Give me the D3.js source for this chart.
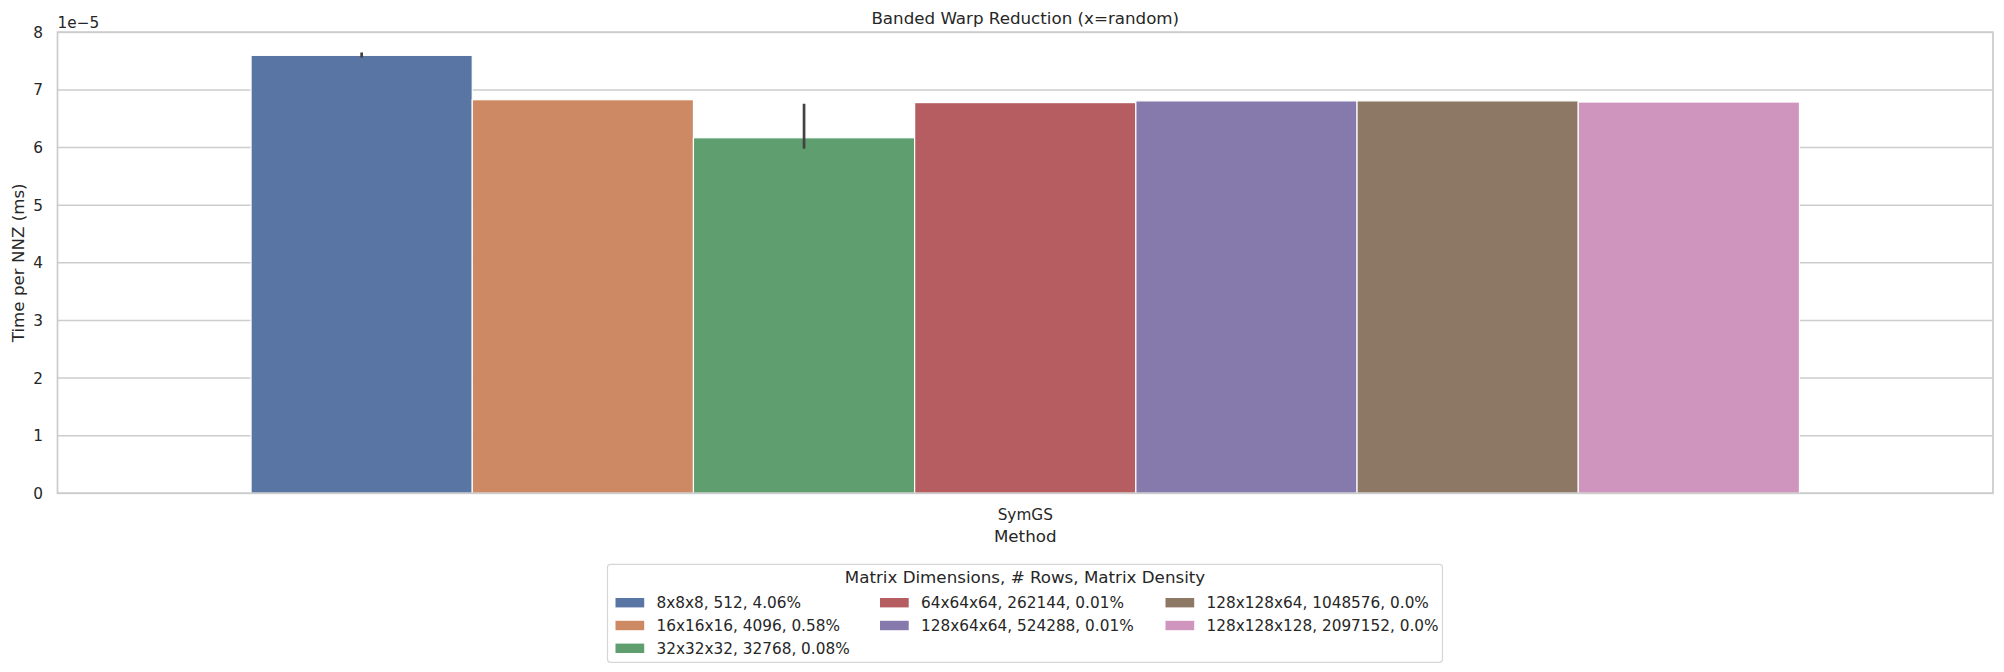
<!DOCTYPE html>
<html>
<head>
<meta charset="utf-8">
<script src="https://cdn.jsdelivr.net/npm/d3@7"></script>
<style>
  html, body { margin: 0; padding: 0; background: #fff; }
  svg { display: block; font-family: "DejaVu Sans", sans-serif; }
</style>
</head>
<body>
<svg id="chart" width="2004" height="672"></svg>
<script>
// ---- data ----
const categories = ["SymGS"];
const seriesNames = [
  "8x8x8, 512, 4.06%",
  "16x16x16, 4096, 0.58%",
  "32x32x32, 32768, 0.08%",
  "64x64x64, 262144, 0.01%",
  "128x64x64, 524288, 0.01%",
  "128x128x64, 1048576, 0.0%",
  "128x128x128, 2097152, 0.0%"
];
const seriesValues = [7.60e-5, 6.83e-5, 6.17e-5, 6.78e-5, 6.81e-5, 6.81e-5, 6.79e-5];
const errorLow  = [7.56e-5, 6.83e-5, 5.98e-5, 6.78e-5, 6.81e-5, 6.81e-5, 6.79e-5];
const errorHigh = [7.65e-5, 6.83e-5, 6.76e-5, 6.78e-5, 6.81e-5, 6.81e-5, 6.79e-5];
const seriesColors = ["#5875a4", "#cc8963", "#5f9e6e", "#b55d60", "#857aab", "#8d7866", "#d095bf"];
const yTicks = [0, 1, 2, 3, 4, 5, 6, 7, 8];
const yScaleExp = 1e-5;

(function () {
// ---- layout ----
const svg = d3.select("#chart");
const mLeft = 57.5, mRight = 1993, mTop = 32.3, mBottom = 493.3;

const x = d3.scaleBand().domain(categories).range([mLeft, mRight]).paddingInner(0).paddingOuter(0);
const xs = d3.scaleBand().domain(seriesNames)
  .range([x.bandwidth() * 0.1, x.bandwidth() * 0.9]).padding(0);
const y = d3.scaleLinear().domain([0, 8]).range([mBottom, mTop]);

// grid lines
svg.append("g").selectAll("line").data(yTicks).join("line")
  .attr("x1", mLeft).attr("x2", mRight)
  .attr("y1", d => y(d)).attr("y2", d => y(d))
  .attr("stroke", "#cccccc").attr("stroke-width", 1.4);

// bars
const cat = categories[0];
svg.append("g").selectAll("rect").data(seriesNames).join("rect")
  .attr("x", d => x(cat) + xs(d))
  .attr("width", xs.bandwidth())
  .attr("y", (d, i) => y(seriesValues[i] / yScaleExp))
  .attr("height", (d, i) => mBottom - y(seriesValues[i] / yScaleExp))
  .attr("fill", (d, i) => seriesColors[i])
  .attr("stroke", "#ffffff").attr("stroke-width", 1.2);

// error bars
svg.append("g").selectAll("line").data(seriesNames).join("line")
  .attr("x1", d => x(cat) + xs(d) + xs.bandwidth() / 2)
  .attr("x2", d => x(cat) + xs(d) + xs.bandwidth() / 2)
  .attr("y1", (d, i) => y(errorLow[i] / yScaleExp))
  .attr("y2", (d, i) => y(errorHigh[i] / yScaleExp))
  .attr("stroke", "#424242").attr("stroke-width", 2.7);

// spines
svg.append("rect")
  .attr("x", mLeft).attr("y", mTop)
  .attr("width", mRight - mLeft).attr("height", mBottom - mTop)
  .attr("fill", "none").attr("stroke", "#cccccc").attr("stroke-width", 1.75);

// y tick labels
svg.append("g").selectAll("text").data(yTicks).join("text")
  .attr("x", 43).attr("y", d => y(d)).attr("dy", "0.36em")
  .attr("text-anchor", "end").attr("font-size", 15.3).attr("fill", "#262626")
  .text(d => d3.format("d")(d));

// offset text
svg.append("text").attr("x", 57.5).attr("y", 27.5)
  .attr("font-size", 15.3).attr("fill", "#262626").text("1e\u22125");

// x tick label
svg.append("text").attr("x", x(cat) + x.bandwidth() / 2).attr("y", 519.5)
  .attr("text-anchor", "middle").attr("font-size", 15.3).attr("fill", "#262626").text(cat);

// axis labels
svg.append("text").attr("x", (mLeft + mRight) / 2).attr("y", 541.5)
  .attr("text-anchor", "middle").attr("font-size", 16.7).attr("fill", "#262626").text("Method");
svg.append("text")
  .attr("transform", `translate(24,${(mTop + mBottom) / 2}) rotate(-90)`)
  .attr("text-anchor", "middle").attr("font-size", 16.7).attr("fill", "#262626")
  .text("Time per NNZ (ms)");

// title
svg.append("text").attr("x", (mLeft + mRight) / 2).attr("y", 24)
  .attr("text-anchor", "middle").attr("font-size", 16.7).attr("fill", "#262626")
  .text("Banded Warp Reduction (x=random)");

// legend
const lg = svg.append("g");
lg.append("rect").attr("x", 607.5).attr("y", 564.3).attr("width", 835).attr("height", 98)
  .attr("rx", 3).attr("fill", "#ffffff").attr("stroke", "#d6d6d6").attr("stroke-width", 1.2);
lg.append("text").attr("x", 1025).attr("y", 583).attr("text-anchor", "middle")
  .attr("font-size", 16.7).attr("fill", "#262626").text("Matrix Dimensions, # Rows, Matrix Density");
const colX = [615.5, 880, 1165.5];
const rowY = [602.7, 625.5, 648.3];
const perCol = [3, 2, 2];
const positions = [];
perCol.forEach((n, c) => { for (let r = 0; r < n; r++) positions.push([c, r]); });
const items = lg.selectAll("g.item").data(seriesNames).join("g").attr("class", "item")
  .attr("transform", (d, i) => `translate(${colX[positions[i][0]]},${rowY[positions[i][1]]})`);
items.append("rect").attr("x", 0).attr("y", -4.7).attr("width", 28.7).attr("height", 9.4)
  .attr("fill", (d, i) => seriesColors[i]);
items.append("text").attr("x", 41).attr("y", 0).attr("dy", "0.36em")
  .attr("font-size", 15.3).attr("fill", "#262626").text(d => d);
})();
</script>
</body>
</html>
